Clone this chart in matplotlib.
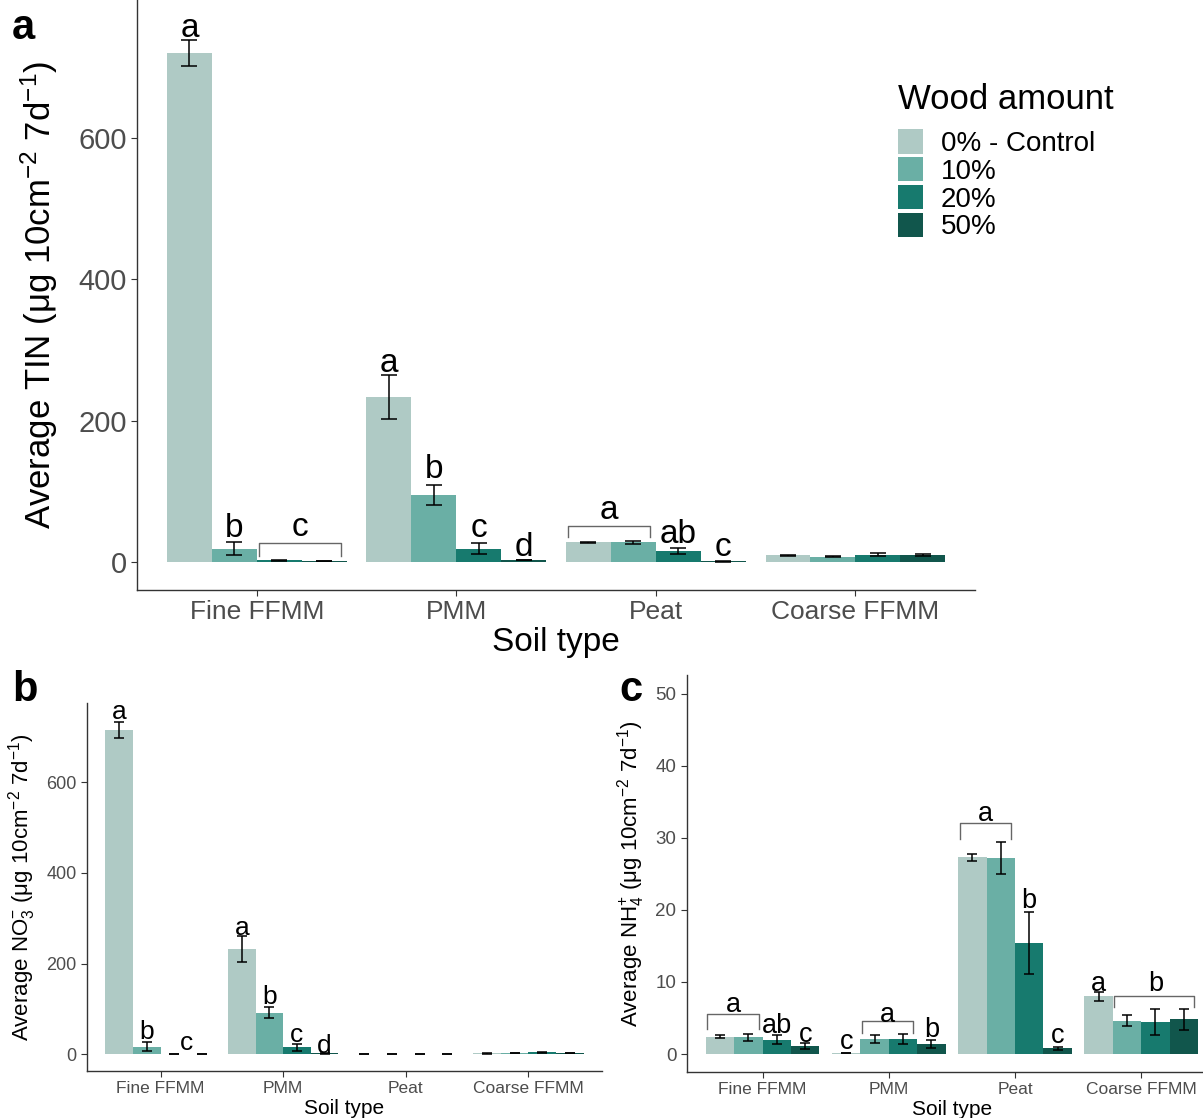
import numpy as np
import matplotlib
matplotlib.use('Agg')
import matplotlib.pyplot as plt
from matplotlib.patches import Patch

plt.rcParams['font.family'] = ['Liberation Sans', 'DejaVu Sans']
plt.rcParams['mathtext.fontset'] = 'custom'
plt.rcParams['mathtext.rm'] = 'Liberation Sans'
plt.rcParams['mathtext.it'] = 'Liberation Sans:italic'

# soil types and wood treatments
soils = ['Fine FFMM', 'PMM', 'Peat', 'Coarse FFMM']
wood = ['0% - Control', '10%', '20%', '50%']
colors = ['#AFCAC5', '#6AAFA5', '#177A6E', '#11564C']

# total inorganic N (rows = soils, cols = wood amount)
tin_mean = [[720, 19, 2.5, 1.5],
            [233, 95, 19, 3],
            [28, 27.6, 15.8, 0.8],
            [9.4, 7.5, 10.5, 9.4]]
tin_se = [[18, 9, 0.5, 0.5],
          [31, 14, 8, 0.5],
          [0.5, 2.2, 4.4, 0.2],
          [0.6, 0.6, 2.2, 1.4]]

# nitrate
no3_mean = [[716, 17, 0, 0],
            [233, 92, 15, 2],
            [0.2, 0.2, 1, 0.2],
            [2, 3, 4, 3]]
no3_se = [[18, 10, 0, 0],
          [29, 13, 7, 0.5],
          [0, 0, 0.6, 0],
          [0.5, 0.6, 0.5, 0.5]]

# ammonium
nh4_mean = [[2.4, 2.3, 2.0, 1.1],
            [0.15, 2.1, 2.1, 1.4],
            [27.3, 27.2, 15.4, 0.8],
            [8.0, 4.6, 4.5, 4.8]]
nh4_se = [[0.2, 0.5, 0.6, 0.4],
          [0.05, 0.5, 0.7, 0.5],
          [0.5, 2.2, 4.3, 0.2],
          [0.65, 0.75, 1.8, 1.45]]

# significance letters: (soil, bar position, letter baseline, letter)
tin_letters = [(0, 0, 743, 'a'), (0, 1, 35, 'b'), (0, 2.5, 37, 'c'),
               (1, 0, 269, 'a'), (1, 1, 119, 'b'), (1, 2, 35, 'c'), (1, 3, 8.5, 'd'),
               (2, 0.5, 61, 'a'), (2, 2, 27, 'ab'), (2, 3, 8.5, 'c')]
# brackets: (soil, first bar, last bar, top, foot)
tin_brackets = [(0, 2, 3, 27, 9), (2, 0, 1, 51, 35)]

no3_letters = [(0, 0, 740, 'a'), (0, 1, 33, 'b'), (0, 2.5, 9, 'c'),
               (1, 0, 264, 'a'), (1, 1, 111, 'b'), (1, 2, 27, 'c'), (1, 3, 3, 'd')]
no3_brackets = []

nh4_letters = [(0, 0.5, 5.9, 'a'), (0, 2, 2.9, 'ab'), (0, 3, 1.7, 'c'),
               (1, 0, 0.65, 'c'), (1, 1.5, 4.5, 'a'), (1, 3, 2.3, 'b'),
               (2, 0.5, 32.3, 'a'), (2, 2, 20.2, 'b'), (2, 3, 1.6, 'c'),
               (3, 0, 8.8, 'a'), (3, 2, 8.7, 'b')]
nh4_brackets = [(0, 0, 1, 5.5, 3.5), (1, 1, 2, 4.6, 2.9),
                (2, 0, 1, 32.0, 29.9), (3, 1, 3, 8.0, 6.5)]

W = 0.225  # bar width (dodge 0.9 / 4)


def panel(ax, mean, se, letters, brackets, ylim, yticks, ylabel,
          tick_fs, xtick_fs, lab_fs, ylab_fs, let_fs, cap, ypad):
    mean = np.array(mean)
    se = np.array(se)
    x = np.arange(len(soils))
    for j in range(len(wood)):
        xj = x + (j - 1.5) * W
        ax.bar(xj, mean[:, j], W, color=colors[j], label=wood[j], zorder=2)
        ax.errorbar(xj, mean[:, j], yerr=se[:, j], fmt='none', ecolor='black',
                    elinewidth=1.1, capsize=cap, capthick=1.1, zorder=3)
    # brackets over groups sharing a letter
    for g, b0, b1, top, foot in brackets:
        x0 = g + (b0 - 1.5) * W - W / 2 + 0.01
        x1 = g + (b1 - 1.5) * W + W / 2 - 0.03
        ax.plot([x0, x0, x1, x1], [foot, top, top, foot], color='#666666',
                lw=1.0, zorder=3)
    for g, pos, yv, txt in letters:
        xl = g + (pos - 1.5) * W
        if pos != int(pos):
            xl -= 0.01
        ax.text(xl, yv, txt, ha='center', va='baseline', fontsize=let_fs,
                color='black', zorder=4)
    ax.set_xlim(-0.6, 3.6)
    ax.set_ylim(*ylim)
    ax.set_xticks(x)
    ax.set_xticklabels(soils, fontsize=xtick_fs, color='#4D4D4D')
    ax.set_yticks(yticks)
    ax.set_yticklabels([str(v) for v in yticks], fontsize=tick_fs, color='#4D4D4D')
    ax.tick_params(length=4, width=0.8, color='#333333')
    ax.set_xlabel('Soil type', fontsize=lab_fs, labelpad=2)
    ax.set_ylabel(ylabel, fontsize=ylab_fs, labelpad=ypad)
    for s in ['top', 'right']:
        ax.spines[s].set_visible(False)
    for s in ['left', 'bottom']:
        ax.spines[s].set_color('#333333')
        ax.spines[s].set_linewidth(1.0)


fig = plt.figure(figsize=(12.03, 11.18), dpi=100)

ax_a = fig.add_axes([0.1139, 0.4723, 0.6966, 0.5277])
panel(ax_a, tin_mean, tin_se, tin_letters, tin_brackets, (-39.6, 795),
      [0, 200, 400, 600], 'Average TIN (μg 10cm$^{-2}$ 7d$^{-1}$)',
      21, 19, 24, 25, 24, 5.5, 13)

ax_b = fig.add_axes([0.0723, 0.042, 0.4281, 0.3292])
panel(ax_b, no3_mean, no3_se, no3_letters, no3_brackets, (-37, 775),
      [0, 200, 400, 600], 'Average NO$_3^{-}$ (μg 10cm$^{-2}$ 7d$^{-1}$)',
      13, 12.5, 15, 16, 19, 3.6, 6)

ax_c = fig.add_axes([0.571, 0.0411, 0.4406, 0.3551])
panel(ax_c, nh4_mean, nh4_se, nh4_letters, nh4_brackets, (-2.5, 52.6),
      [0, 10, 20, 30, 40, 50], 'Average NH$_4^{+}$ (μg 10cm$^{-2}$ 7d$^{-1}$)',
      13.5, 12.5, 15, 16, 19.5, 3.6, 6)

handles = [Patch(facecolor=c, edgecolor='none') for c in colors]
leg = fig.legend(handles, wood, loc='upper left', bbox_to_anchor=(0.7465, 0.9256),
                 frameon=False, title='Wood amount', title_fontsize=25, fontsize=20,
                 handlelength=0.9, handleheight=1.0, labelspacing=0.0,
                 handletextpad=0.65, alignment='left', borderaxespad=0,
                 borderpad=0)
leg._legend_box.sep = 9

fig.text(0.010, 0.975, 'a', fontsize=30, fontweight='bold', va='center')
fig.text(0.010, 0.383, 'b', fontsize=30, fontweight='bold', va='center')
fig.text(0.515, 0.383, 'c', fontsize=30, fontweight='bold', va='center')

fig.savefig('out.png', dpi=100)
